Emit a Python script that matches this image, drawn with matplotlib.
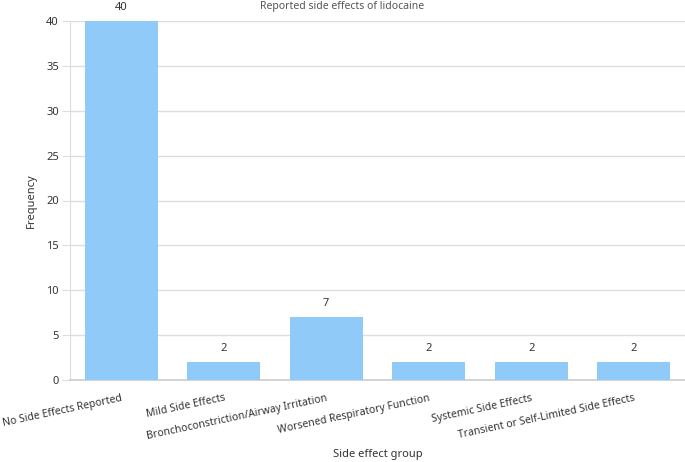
import matplotlib
matplotlib.use("Agg")
import matplotlib.pyplot as plt

categories = ["No Side Effects Reported", "Mild Side Effects",
              "Bronchoconstriction/Airway Irritation", "Worsened Respiratory Function",
              "Systemic Side Effects", "Transient or Self-Limited Side Effects"]
values = [40, 2, 7, 2, 2, 2]
yticks = [0, 5, 10, 15, 20, 25, 30, 35, 40]

plt.rcParams['font.family'] = ['Noto Sans', 'DejaVu Sans']

W, H = 685, 462
fig = plt.figure(figsize=(W/100, H/100), dpi=100)
ax = fig.add_axes([70/W, 1-380/H, (685-70)/W, (380-21)/H])

x = list(range(len(categories)))
ax.bar(x, values, width=0.71, color="#90CAF9", zorder=3)
ax.set_xlim(-0.5, len(categories)-0.5)
ax.set_ylim(0, 40)
ax.set_yticks(yticks)
ax.yaxis.grid(True, color="#dddddd", linewidth=1, zorder=0)
ax.set_axisbelow(True)
for s in ["top", "right"]:
    ax.spines[s].set_visible(False)
ax.spines["left"].set_color("#dddddd")
ax.spines["bottom"].set_color("#cccccc")
ax.spines["bottom"].set_linewidth(1.2)
ax.tick_params(axis="y", length=6, color="#dddddd", labelsize=8, labelcolor="#333333", pad=2)
ax.tick_params(axis="x", length=0, labelsize=7.5, labelcolor="#333333", pad=9)
ax.set_xticks(x)
ax.set_xticklabels(categories, rotation=12, ha="right", va="top", rotation_mode="anchor")

for xi, v in zip(x, values):
    ax.annotate(str(v), (xi, v), xytext=(0, 6), textcoords="offset points",
                ha="center", va="bottom", fontsize=8, color="#333333")

ax.set_ylabel("Frequency", fontsize=8, color="#333333", labelpad=7)
fig.text((70 + 685) / 2 / W, 1 - 455/H, "Side effect group", ha="center", va="center",
         fontsize=8, color="#333333")
fig.text(0.5, 1-1/H, "Reported side effects of lidocaine", ha="center", va="top",
         fontsize=7.5, fontweight="bold", color="#555555")

fig.savefig("out.png", dpi=100)
